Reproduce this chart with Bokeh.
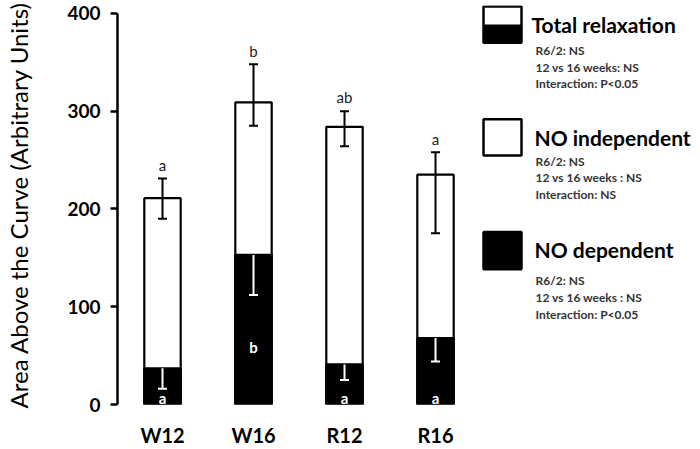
from bokeh.plotting import figure
from bokeh.models import Range1d, FixedTicker, Whisker, ColumnDataSource, TeeHead
from bokeh.core.properties import value
from bokeh.embed import file_html
from bokeh.resources import INLINE

# ---------------- data ----------------
categories = ["W12", "W16", "R12", "R16"]
total = [211, 309, 284, 235]
total_upper = [231, 348, 300, 258]
total_lower = [190, 285, 264, 175]
total_letters = ["a", "b", "ab", "a"]

no_dependent = [37, 153, 41, 68]
no_dependent_lower = [16, 112, 25, 44]
dep_letters = ["a", "b", "a", "a"]
dep_letter_y = [7, 59, 7, 7]

y_ticks = [0, 100, 200, 300, 400]

legend_titles = ["Total relaxation", "NO independent", "NO dependent"]
legend_lines = [
    ["R6/2: NS", "12 vs 16 weeks: NS", "Interaction: P<0.05"],
    ["R6/2: NS", "12 vs 16 weeks : NS", "Interaction: NS"],
    ["R6/2: NS", "12 vs 16 weeks : NS", "Interaction: P<0.05"],
]

FONT = "Lato"
idx = list(range(len(categories)))

# layout helpers: reference-picture pixel positions -> plot units
TOP = 5          # frame top (px)
ZERO = 412       # pixel row of value 0
SCALE = 0.9975   # px per unit
def px_x(ix):
    return (ix - 162) / 91.0

def val(iy):
    # reference picture had 0 at y=409; shift by 3 px
    return (ZERO - (iy + 3)) / SCALE

p = figure(width=700, height=449, output_backend="svg", toolbar_location=None,
           x_range=Range1d(px_x(117), px_x(700)),
           y_range=Range1d(0, (ZERO - TOP) / SCALE),
           min_border_left=117, min_border_right=0, min_border_top=TOP,
           min_border_bottom=449 - ZERO)
p.outline_line_color = None
p.grid.visible = False
p.background_fill_color = "white"

# bars
src = ColumnDataSource(dict(x=idx, total=total, up=total_upper, lo=total_lower,
                            dep=no_dependent, dlo=no_dependent_lower))
p.vbar(x="x", top="total", width=0.4, source=src, fill_color="white",
       line_color="black", line_width=2.2)
p.vbar(x="x", top="dep", width=0.4, source=src, fill_color="black",
       line_color="black", line_width=2.2)

# error bars
w1 = Whisker(base="x", upper="up", lower="lo", source=src, line_color="black",
             line_width=2, level="overlay",
             upper_head=TeeHead(size=9, line_width=2, line_color="black"),
             lower_head=TeeHead(size=9, line_width=2, line_color="black"))
p.add_layout(w1)
w2 = Whisker(base="x", upper="dep", lower="dlo", source=src, line_color="white",
             line_width=2, level="overlay", upper_head=None,
             lower_head=TeeHead(size=9, line_width=2, line_color="white"))
p.add_layout(w2)

# significance letters
p.text(x=idx, y=[u + 14 for u in total_upper], text=total_letters,
       text_font=value(FONT), text_font_size="15px", text_color="#222222",
       text_align="center", text_baseline="middle")
p.text(x=idx, y=dep_letter_y, text=dep_letters,
       text_font=value(FONT), text_font_size="15px", text_font_style="bold",
       text_color="white", text_align="center", text_baseline="middle")

# axes
ya = p.yaxis[0]
ya.ticker = FixedTicker(ticks=y_ticks)
ya.bounds = (0, 400)
ya.axis_line_width = 2.5
ya.major_tick_line_width = 2.5
ya.major_tick_in = 0
ya.major_tick_out = 7
ya.minor_tick_line_color = None
ya.major_label_text_font = FONT
ya.major_label_text_font_style = "bold"
ya.major_label_text_font_size = "19px"
ya.major_label_text_color = "black"
ya.major_label_standoff = 10
ya.axis_label = "Area Above the Curve (Arbitrary Units)"
ya.axis_label_text_font = FONT
ya.axis_label_text_font_style = "normal"
ya.axis_label_text_font_size = "24px"
ya.axis_label_text_color = "black"
ya.axis_label_standoff = 31

xa = p.xaxis[0]
xa.ticker = FixedTicker(ticks=idx)
xa.major_label_overrides = {i: c for i, c in zip(idx, categories)}
xa.axis_line_color = None
xa.major_tick_line_color = None
xa.minor_tick_line_color = None
xa.major_label_text_font = FONT
xa.major_label_text_font_style = "bold"
xa.major_label_text_font_size = "20px"
xa.major_label_text_color = "black"
xa.major_label_standoff = 12

# legend (custom, right side)
box_tops = [val(3), val(118), val(233)]
box_bots = [val(40), val(155), val(271)]
L, R = px_x(483), px_x(521)
# Total relaxation: upper half white, lower half black
p.quad(left=[L], right=[R], top=[(box_tops[0] + box_bots[0]) / 2], bottom=[box_bots[0]],
       fill_color="black", line_color=None)
p.quad(left=[L], right=[R], top=[box_tops[2]], bottom=[box_bots[2]],
       fill_color="black", line_color=None)
p.quad(left=[L] * 3, right=[R] * 3, top=box_tops, bottom=box_bots,
       fill_color=None, line_color="black", line_width=2.5)

title_y = [val(21), val(137), val(251)]
p.text(x=[px_x(531), px_x(534), px_x(534)], y=title_y, text=legend_titles,
       text_font=value(FONT), text_font_size="21px", text_font_style="bold",
       text_color="black", text_align="left", text_baseline="middle")
line_y0 = [val(48), val(161), val(283)]
xs, ys, ts = [], [], []
for k in range(3):
    for j, t in enumerate(legend_lines[k]):
        xs.append(px_x(535))
        ys.append(line_y0[k] - j * 17)
        ts.append(t)
p.text(x=xs, y=ys, text=ts, text_font=value(FONT), text_font_size="12px",
       text_font_style="bold", text_color="#333333", text_align="left",
       text_baseline="middle")

open("out.html", "w").write(file_html(p, INLINE))
